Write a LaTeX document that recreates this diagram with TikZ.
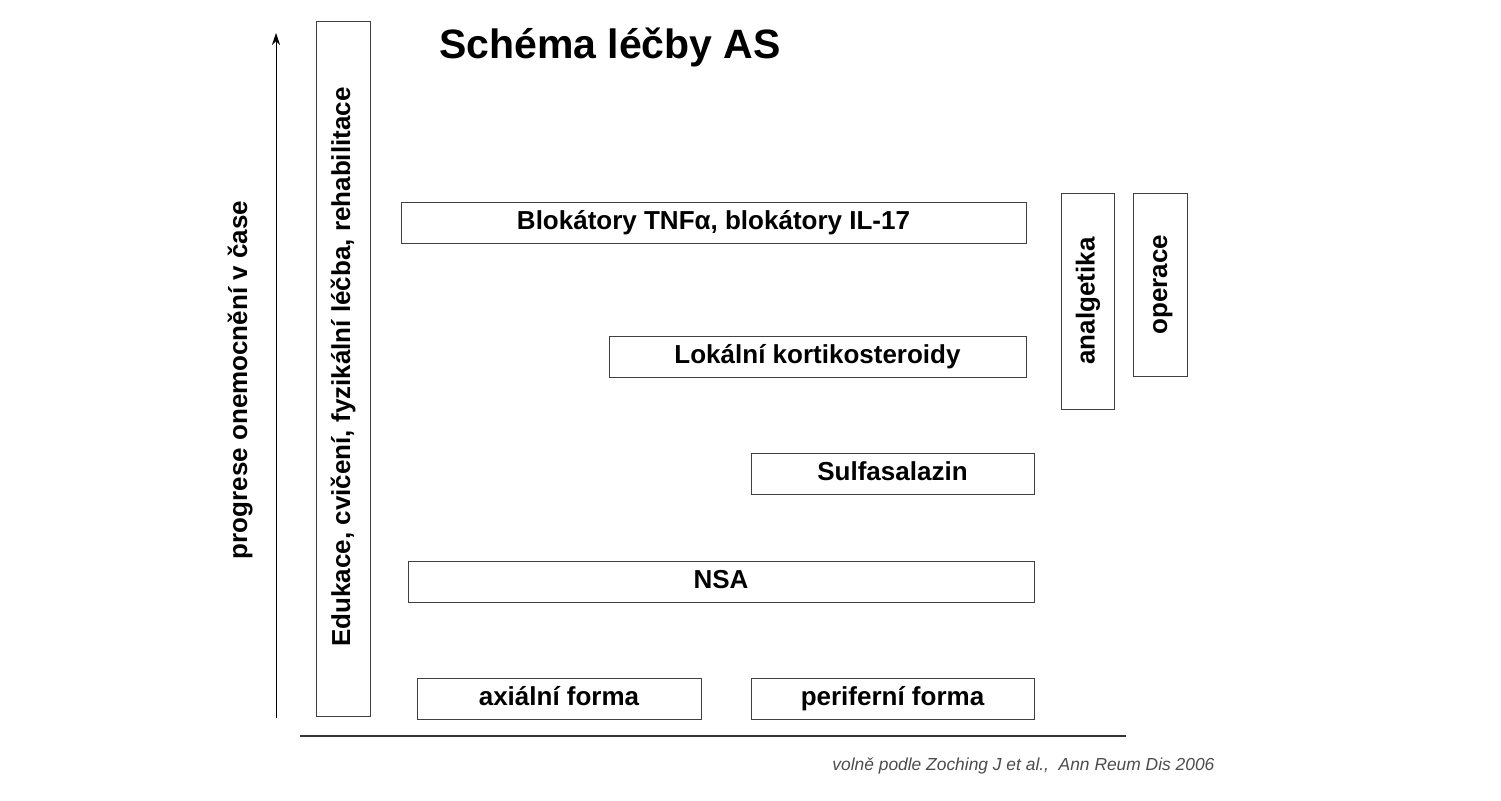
\documentclass[tikz,border=0pt]{standalone}
\usepackage{fontspec}
\setmainfont{Liberation Sans}
\usetikzlibrary{arrows.meta}
\begin{document}
\begin{tikzpicture}[x=1pt,y=-1pt,
  lbl/.style={font=\fontsize{26}{28}\selectfont\bfseries,text height=19pt,text depth=5pt},
  box/.style={draw=black!75,line width=1pt,inner sep=0pt,lbl}]
\useasboundingbox (0,0) rectangle (1501,800);
\node[box,minimum width=54pt,minimum height=694pt] (edu) at (343,369) {};
\node[rotate=90,lbl] (edut) at (343,367) {Edukace, cvičení, fyzikální léčba, rehabilitace};
\coordinate (a0) at (276,718);
\coordinate (a1) at (276,33);
\draw[-{Stealth[length=12pt,width=8pt]},line width=0.8pt] (a0) -- (a1);
\node[rotate=90,lbl] (prog) at (240,380) {progrese onemocnění v čase};
\node[font=\fontsize{41}{44}\selectfont\bfseries] (title) at (610,47) {Schéma léčby AS};
\node[box,minimum width=625pt,minimum height=41pt] (tnf) at (713.5,222.5) {Blokátory TNFα, blokátory IL-17};
\node[box,minimum width=53pt,minimum height=216pt] (anal) at (1087.5,301) {};
\node[rotate=90,lbl] at (anal) {analgetika};
\node[box,minimum width=54pt,minimum height=183pt] (oper) at (1160,284.5) {};
\node[rotate=90,lbl] at (oper) {operace};
\node[box,minimum width=417pt,minimum height=41pt] (lok) at (817.5,356.5) {Lokální kortikosteroidy};
\node[box,minimum width=283pt,minimum height=41pt] (sul) at (892.5,473.5) {Sulfasalazin};
\node[box,minimum width=626pt,minimum height=41pt] (nsa) at (721,581.5) {NSA};
\node[box,minimum width=284pt,minimum height=41pt] (ax) at (559,698.5) {axiální forma};
\node[box,minimum width=283pt,minimum height=41pt] (per) at (892.5,698.5) {periferní forma};
\coordinate (b0) at (300,736);
\coordinate (b1) at (1126,736);
\draw[line width=2pt,black!80] (b0) -- (b1);
\node[anchor=east,font=\fontsize{17.4}{19}\selectfont\itshape,text=black!70] (cit) at (1218,766) {volně podle Zoching J et al.,\ \ Ann Reum Dis 2006};
\end{tikzpicture}
\end{document}
